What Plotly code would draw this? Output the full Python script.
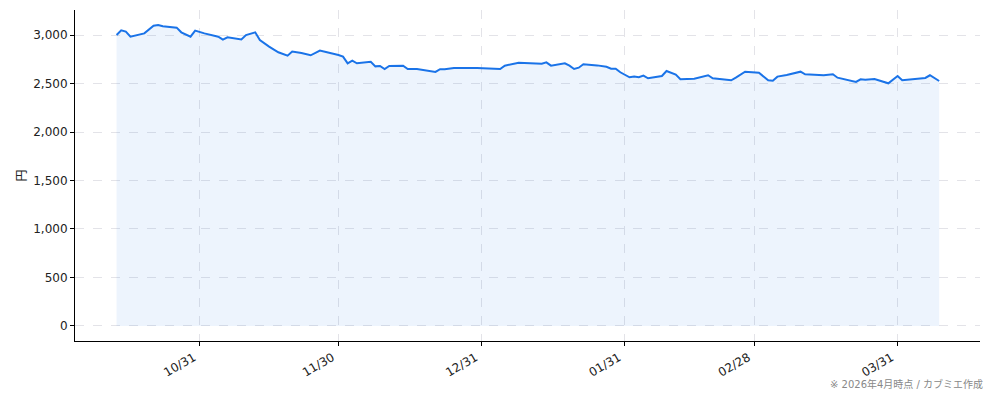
import plotly.graph_objects as go

# 日付と終値（円）
dates = [
    "2025-10-13", "2025-10-14", "2025-10-15", "2025-10-16", "2025-10-19", "2025-10-20",
    "2025-10-21", "2025-10-22", "2025-10-23", "2025-10-26", "2025-10-27", "2025-10-29",
    "2025-10-30", "2025-11-01", "2025-11-04", "2025-11-05", "2025-11-06", "2025-11-09",
    "2025-11-10", "2025-11-12", "2025-11-13", "2025-11-15", "2025-11-17", "2025-11-19",
    "2025-11-20", "2025-11-22", "2025-11-24", "2025-11-26", "2025-11-27", "2025-11-30",
    "2025-12-01", "2025-12-02", "2025-12-03", "2025-12-04", "2025-12-07", "2025-12-08",
    "2025-12-09", "2025-12-10", "2025-12-11", "2025-12-14", "2025-12-15", "2025-12-17",
    "2025-12-21", "2025-12-22", "2025-12-23", "2025-12-25", "2025-12-30", "2026-01-04",
    "2026-01-05", "2026-01-08", "2026-01-13", "2026-01-14", "2026-01-15", "2026-01-18",
    "2026-01-19", "2026-01-20", "2026-01-21", "2026-01-22", "2026-01-25", "2026-01-27",
    "2026-01-28", "2026-01-29", "2026-01-30", "2026-02-01", "2026-02-02", "2026-02-03",
    "2026-02-04", "2026-02-05", "2026-02-08", "2026-02-09", "2026-02-11", "2026-02-12",
    "2026-02-15", "2026-02-17", "2026-02-18", "2026-02-19", "2026-02-21", "2026-02-23",
    "2026-02-24", "2026-02-26", "2026-03-01", "2026-03-02", "2026-03-03", "2026-03-04",
    "2026-03-05", "2026-03-07", "2026-03-08", "2026-03-10", "2026-03-11", "2026-03-15",
    "2026-03-17", "2026-03-18", "2026-03-22", "2026-03-23", "2026-03-24", "2026-03-26",
    "2026-03-29", "2026-03-31", "2026-04-01", "2026-04-06", "2026-04-07", "2026-04-09",
]
prices = [
    3000, 3049, 3035, 2983, 3017, 3052,
    3096, 3103, 3090, 3076, 3028, 2983,
    3045, 3017, 2983, 2952, 2976, 2955,
    3000, 3028, 2949, 2880, 2822, 2787,
    2829, 2815, 2791, 2839, 2829, 2794,
    2777, 2708, 2735, 2708, 2725, 2677,
    2681, 2650, 2681, 2684, 2650, 2650,
    2619, 2647, 2647, 2660, 2660, 2650,
    2684, 2715, 2704, 2718, 2684, 2708,
    2684, 2650, 2663, 2698, 2687, 2673,
    2653, 2653, 2616, 2564, 2571, 2564,
    2581, 2554, 2578, 2629, 2592, 2544,
    2550, 2571, 2585, 2554, 2543, 2533,
    2560, 2622, 2612, 2571, 2533, 2529,
    2571, 2588, 2601, 2622, 2595, 2585,
    2595, 2560, 2516, 2543, 2540, 2547,
    2502, 2578, 2533, 2557, 2585, 2526,
]

tick_dates = ["2025-10-31", "2025-11-30", "2025-12-31", "2026-01-31", "2026-02-28", "2026-03-31"]
tick_labels = ["10/31", "11/30", "12/31", "01/31", "02/28", "03/31"]
y_ticks = [0, 500, 1000, 1500, 2000, 2500, 3000]

font_main = "DejaVu Sans, Noto Sans CJK JP"

trace = go.Scatter(
    x=dates, y=prices, mode="lines",
    line=dict(color="#1a73e8", width=2),
    fill="tozeroy", fillcolor="rgba(26,115,232,0.08)",
    showlegend=False,
)

# ページ本体の余白(8px)を差し引いたサイズ
layout = go.Layout(
    width=978, height=385,
    margin=dict(l=67, r=6, t=2, b=52),
    paper_bgcolor="white", plot_bgcolor="white",
    font=dict(family=font_main, size=12, color="#222"),
    xaxis=dict(
        type="date", automargin=False,
        range=["2025-10-04", "2026-04-17 20:00"],
        tickvals=tick_dates, ticktext=tick_labels, tickangle=-30,
        ticklabelshift=-6,
        showgrid=True, gridcolor="#e3e3e8", griddash="dash", gridwidth=1,
        showline=True, linecolor="black", linewidth=1,
        ticks="outside", ticklen=4, tickcolor="black",
        zeroline=False,
    ),
    yaxis=dict(
        automargin=False,
        range=[-155, 3258],
        tickvals=y_ticks, tickformat=",d",
        showgrid=True, gridcolor="#e3e3e8", griddash="dash", gridwidth=1,
        showline=True, linecolor="black", linewidth=1,
        ticks="outside", ticklen=4, tickcolor="black",
        zeroline=False,
        title=dict(text="円", standoff=4, font=dict(size=12)),
    ),
    annotations=[dict(
        text="※ 2026年4月時点 / カブミエ作成",
        xref="paper", yref="paper", x=1.0055, y=-0.13,
        xanchor="right", yanchor="middle", showarrow=False,
        font=dict(size=10, color="#888"),
    )],
)

fig = go.Figure(data=[trace], layout=layout)
fig.write_html("out.html")
